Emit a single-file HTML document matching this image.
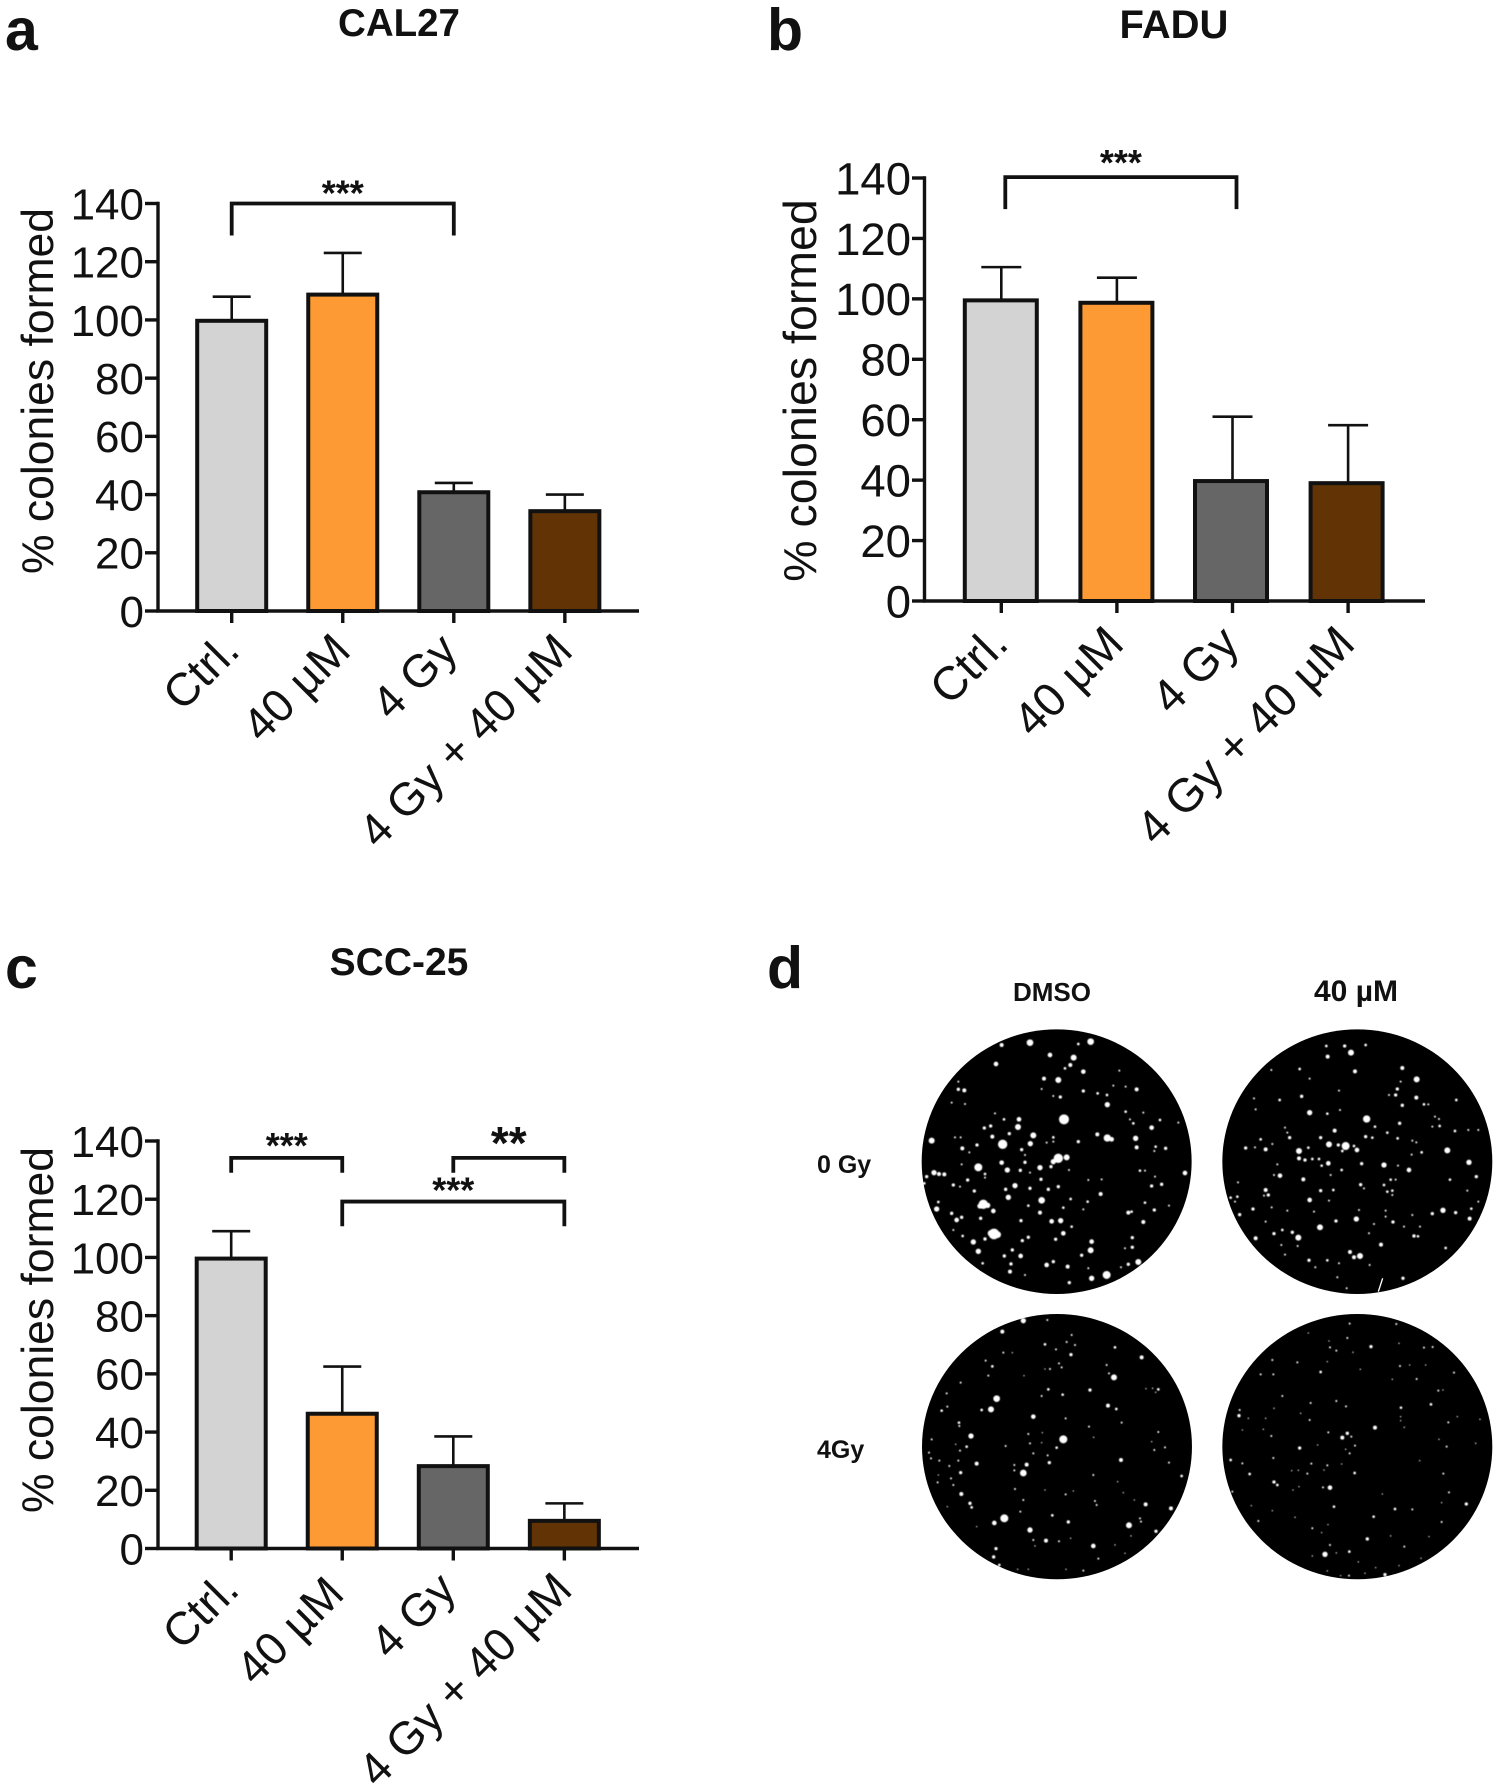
<!DOCTYPE html>
<html lang="en">
<head>
<meta charset="utf-8">
<title>Colony formation assay</title>
<style>
html,body{margin:0;padding:0;background:#fff;}
svg{display:block;}
text{font-family:"Liberation Sans",sans-serif;fill:#111;}
</style>
</head>
<body>
<svg id="figure" xmlns="http://www.w3.org/2000/svg" width="1499" height="1789" viewBox="0 0 1499 1789">
  <defs>
    <filter id="soft" x="-5%" y="-5%" width="110%" height="110%"><feGaussianBlur stdDeviation="1.6"/></filter>
  </defs>
  <rect width="1499" height="1789" fill="#fff"/>

  <text x="5" y="50" font-size="59" font-weight="700">a</text>
  <text x="767" y="50" font-size="59" font-weight="700">b</text>
  <text x="5" y="988" font-size="59" font-weight="700">c</text>
  <text x="767" y="988" font-size="59" font-weight="700">d</text>

  <text x="399" y="36" font-size="38.5" font-weight="700" text-anchor="middle">CAL27</text>
  <text x="1174" y="38" font-size="40" font-weight="700" text-anchor="middle">FADU</text>
  <text x="399" y="975" font-size="39" font-weight="700" text-anchor="middle">SCC-25</text>

  <text x="1052" y="1001" font-size="26" font-weight="700" text-anchor="middle">DMSO</text>
  <text x="1360" y="1001" font-size="30" font-weight="700" text-anchor="middle" transform="translate(-4 0)">40 µM</text>
  <text x="817" y="1173" font-size="25" font-weight="700">0 Gy</text>
  <text x="817" y="1458" font-size="25" font-weight="700">4Gy</text>

  <g id="charts"></g>
  <g id="wells"></g>
</svg>

<script>
const categories = ['Ctrl.', '40 µM', '4 Gy', '4 Gy + 40 µM'];
const tickValues = [0, 20, 40, 60, 80, 100, 120, 140];
const barColors = ['#d3d3d3', '#fe9a33', '#666666', '#623405'];

const cal27Means = [99.7, 108.7, 40.8, 34.3];
const cal27Upper = [108, 123, 44, 40];
const faduMeans = [99.5, 98.7, 39.7, 39];
const faduUpper = [110.5, 107, 61, 58.2];
const scc25Means = [99.6, 46.3, 28.3, 9.5];
const scc25Upper = [109, 62.5, 38.5, 15.5];

/* from-category, to-category, bracket value, leg-end value, stars */
const cal27Brackets = [[0, 2, 140, 129, '***']];
const faduBrackets = [[0, 2, 140.3, 129.7, '***']];
const scc25Brackets = [[0, 1, 134.2, 129.1, '***'], [2, 3, 134.2, 129.1, '**'], [1, 3, 119.2, 110.7, '***']];

const wellA = "345,68,10;527,65,10;260,75,6;405,105,7;490,72,4;476,113,9;466,135,6;450,145,4;505,155,7;243,132,7;430,180,9;387,176,6;130,208,5;148,211,6;130,185,3;505,213,5;548,220,4;576,225,4;577,254,8;436,231,5;415,228,3;380,207,3;665,208,6;632,200,3;595,197,3;613,152,3;110,248,3;150,252,3;240,280,3;267,298,4;312,298,7;309,321,9;227,318,5;208,324,5;283,341,5;232,350,6;355,346,9;346,371,8;50,362,9;120,352,3;137,352,3;142,385,6;186,375,5;263,373,14;163,397,3;320,389,5;330,405,3;415,352,4;395,368,3;415,365,3;490,365,5;547,343,6;577,354,11;590,358,7;632,275,4;655,310,4;710,323,7;735,300,4;662,355,8;665,382,6;722,380,4;752,385,5;718,393,3;790,308,3;685,278,3;645,298,3;447,298,15;430,415,14;455,412,9;415,425,8;408,440,5;375,443,8;190,442,12;260,428,7;277,450,8;330,427,5;140,433,3;316,451,5;345,458,3;462,450,3;810,459,7;675,452,4;690,452,3;57,458,8;72,462,6;88,463,6;35,470,5;28,490,4;158,480,5;210,462,4;210,473,3;378,478,5;520,480,3;560,478,3;115,495,5;135,500,3;178,513,5;300,497,8;272,508,5;345,505,5;400,508,5;430,500,5;740,493,5;710,498,5;720,470,3;557,522,6;280,532,8;380,541,10;467,537,4;518,545,4;205,553,14;195,558,8;218,556,8;235,573,7;340,557,4;65,567,8;70,546,4;110,580,5;125,600,7;140,592,5;197,595,5;375,578,6;445,563,4;505,568,3;690,548,4;718,570,5;640,578,6;650,575,4;762,557,3;685,606,6;318,602,5;410,604,7;437,602,8;470,620,4;115,630,3;237,642,16;228,640,10;248,644,10;445,640,7;143,648,4;175,666,8;210,657,5;340,652,5;322,662,5;422,658,5;530,665,7;652,653,5;652,682,5;190,694,8;527,691,9;292,690,5;268,708,5;317,708,7;500,706,5;415,725,5;395,735,7;458,740,6;203,730,4;288,732,5;285,755,6;670,726,9;640,733,5;575,765,12;530,775,8;330,765,3;463,788,5;520,745,3;618,742,3;630,685,3";
const wellB = "377,78,5;322,78,4;396,98,9;326,110,6;440,75,4;408,154,6;550,144,6;242,147,4;157,150,3;272,176,3;593,178,9;545,185,3;535,207,5;530,225,5;510,225,3;248,229,5;105,235,3;182,240,4;360,212,3;592,233,6;550,256,5;615,253,4;628,253,3;712,240,4;272,278,8;325,281,4;363,270,3;110,268,3;443,297,11;542,310,5;468,320,4;648,290,3;660,297,3;662,318,4;640,320,3;708,333,4;748,330,3;778,330,3;198,323,3;205,338,3;212,353,5;347,332,6;440,350,5;460,353,4;505,338,4;536,355,4;305,353,5;125,358,4;80,384,5;108,382,3;140,388,6;160,372,3;330,373,9;358,375,5;380,378,12;405,378,4;414,390,7;370,393,4;268,383,4;240,393,9;240,415,6;258,420,5;280,417,4;300,417,4;580,362,3;592,367,3;685,391,9;608,397,4;578,404,3;750,427,8;428,431,5;495,435,8;537,437,3;570,450,7;328,430,7;308,437,4;175,433,3;165,465,3;183,467,7;335,465,3;368,450,4;772,470,5;253,478,6;693,479,4;515,479,4;530,479,3;425,494,5;495,495,4;57,487,3;140,510,6;148,525,5;135,527,3;305,512,5;343,510,4;505,515,4;520,512,4;520,525,3;745,512,3;435,505,3;272,540,7;330,542,3;55,530,4;35,533,4;48,545,3;102,567,5;62,584,5;158,562,3;205,572,3;285,575,3;420,570,3;500,572,3;672,571,8;640,581,5;710,578,5;757,566,4;778,545,3;752,596,6;580,585,3;412,597,8;351,603,5;500,590,3;522,606,5;303,622,9;140,605,3;220,637,5;238,653,9;190,630,4;165,641,5;110,655,6;465,612,3;585,648,5;597,649,4;603,620,3;450,640,3;555,620,3;486,674,6;680,684,4;187,675,3;236,678,3;393,696,6;405,712,6;423,708,9;198,704,3;270,721,5;325,721,4;289,742,3;360,730,3;452,735,3;355,772,3;552,775,5;383,805,3";
const wellC = "325,32,8;262,65,6;397,30,3;470,75,3;390,103,4;455,96,3;480,105,3;423,118,3;600,112,4;468,134,5;265,128,3;292,128,2;680,142,6;232,169,4;212,152,3;432,160,3;405,177,3;440,172,3;390,177,2;575,165,3;220,197,3;597,202,9;582,190,3;327,197,2;137,218,3;245,266,10;400,238,4;525,240,5;730,238,4;713,235,2;693,236,2;722,247,2;443,254,4;380,258,3;95,250,3;228,298,9;200,300,4;579,287,6;604,297,4;97,290,3;80,302,4;355,320,7;132,338,4;133,348,3;452,325,3;522,350,3;620,338,3;168,378,8;445,388,12;382,368,2;340,372,3;50,388,3;536,382,2;730,366,3;155,410,4;135,422,3;122,403,2;380,398,2;345,400,3;425,413,4;272,408,3;750,412,3;718,420,3;710,395,2;355,430,3;398,436,3;42,428,3;48,445,3;73,452,3;130,452,3;185,461,6;403,458,5;335,464,6;618,450,6;762,458,3;103,468,3;298,465,3;325,489,10;137,488,5;298,481,3;535,495,3;800,498,4;70,495,2;108,505,3;68,517,3;115,525,3;608,515,2;139,552,6;452,553,3;300,537,3;390,540,2;475,543,2;625,548,2;165,580,5;170,592,4;325,570,3;540,573,3;545,585,3;692,583,6;768,595,6;658,570,2;97,590,2;268,625,12;238,639,7;412,616,4;316,605,3;460,636,5;675,625,3;678,635,3;642,646,9;345,660,8;723,664,5;393,692,6;355,690,3;432,694,3;535,708,7;243,716,5;236,741,5;253,765,4;550,746,3;648,678,2;600,705,2;630,730,2;340,778,2;453,778,2;505,782,3;308,778,2;360,708,2;467,685,2;185,650,2";
const wellD = "392,41,3;532,42,3;268,69,2;385,84,3;330,93,2;456,110,5;333,112,3;352,122,3;540,100,2;615,113,3;641,111,3;402,127,2;160,150,3;235,157,3;325,155,2;125,193,3;163,193,3;305,186,4;424,178,2;543,168,3;572,165,2;620,165,2;705,188,3;593,207,3;520,208,2;658,242,3;672,240,2;190,258,3;352,273,3;275,279,3;636,283,4;381,289,3;546,293,4;62,300,3;60,317,5;165,295,2;245,310,2;272,330,3;545,320,2;545,332,2;88,325,2;140,325,2;688,337,3;715,320,2;783,328,2;468,353,6;556,352,2;385,370,5;370,383,6;397,380,3;328,367,3;70,360,2;133,358,2;157,378,3;408,407,3;380,418,2;392,430,3;242,414,5;296,405,2;683,410,3;770,400,2;660,388,2;163,444,3;35,450,4;70,460,3;602,452,2;277,461,3;325,466,3;368,462,2;92,492,4;265,491,3;238,481,2;218,482,2;407,489,4;315,480,2;673,491,3;165,516,5;175,525,4;240,530,2;222,540,2;333,533,7;312,532,3;40,545,3;690,547,3;490,552,2;742,582,5;345,590,4;528,597,4;580,598,3;668,578,2;97,587,2;160,602,2;464,620,4;118,633,3;228,622,2;668,636,3;280,655,3;308,668,2;327,644,2;445,687,5;515,678,2;630,680,2;333,705,3;556,710,3;318,733,8;391,725,4;352,729,2;606,745,2;540,767,2;498,794,5;390,797,3;365,797,2;325,783,2;438,790,2;418,756,2;470,773,2;280,738,2";

const NS = 'http://www.w3.org/2000/svg';
const chartsRoot = document.getElementById('charts');
const wellsRoot = document.getElementById('wells');

function make(parent, tag, attrs, text) {
  const el = document.createElementNS(NS, tag);
  for (const k in attrs) el.setAttribute(k, attrs[k]);
  if (text !== undefined) el.textContent = text;
  parent.appendChild(el);
  return el;
}

function drawChart(cfg) {
  const g = make(chartsRoot, 'g', {});
  
  

  const yScale = v => cfg.y0 + (cfg.y140 - cfg.y0) * v / 140;
  const xScale = i => cfg.x0 + cfg.step * i;
  const ink = '#111';

  cfg.means.forEach((m, i) => {
    const cx = xScale(i);
    const barX = cx + cfg.barNudge[i];
    const cap = make(g, 'path', {
      d: 'M' + cx + ' ' + yScale(m) + 'V' + yScale(cfg.upper[i]) + 'M' + (cx - cfg.capW / 2) + ' ' + yScale(cfg.upper[i]) + 'H' + (cx + cfg.capW / 2),
      stroke: ink, 'stroke-width': 2.6, fill: 'none'
    });
    
    
    const bar = make(g, 'rect', {
      x: barX - cfg.barW / 2, y: yScale(m), width: cfg.barW, height: yScale(0) - yScale(m),
      fill: barColors[i], stroke: ink, 'stroke-width': 4
    });
    
    
    const tick = make(g, 'line', {
      x1: cx, x2: cx, y1: cfg.y0, y2: cfg.y0 + 12, stroke: ink, 'stroke-width': 3.4
    });
    
    
    const lx = cx + cfg.labelDx + cfg.labelShift[i][0];
    const ly = cfg.y0 + cfg.labelDy + cfg.labelShift[i][1];
    const label = make(g, 'text', {
      transform: 'translate(' + lx + ' ' + ly + ') rotate(-45)',
      'text-anchor': 'end', 'font-size': cfg.labelSize
    }, categories[i]);
    
    
  });

  tickValues.forEach(v => {
    const y = yScale(v);
    const t = make(g, 'line', {
      x1: cfg.tickLeft, x2: cfg.axisX, y1: y, y2: y, stroke: ink, 'stroke-width': 3.4
    });
    
    
    const lab = make(g, 'text', {
      x: cfg.tickLeft - 1, y: y + cfg.tickSize * 0.36, 'text-anchor': 'end', 'font-size': cfg.tickSize
    }, String(v));
    
    
  });

  const axes = make(g, 'path', {
    d: 'M' + cfg.axisX + ' ' + (yScale(140) - 1.7) + 'V' + cfg.y0 + 'H' + cfg.axisEnd,
    stroke: ink, 'stroke-width': 3.4, fill: 'none'
  });
  
  

  const title = make(g, 'text', {
    transform: 'translate(' + cfg.titleX + ' ' + cfg.titleY + ') rotate(-90)',
    'text-anchor': 'middle', 'font-size': cfg.titleSize
  }, '% colonies formed');
  
  

  cfg.brackets.forEach((b, k) => {
    const x1 = xScale(b[0]) + cfg.bracketDx;
    const x2 = xScale(b[1]) + cfg.bracketDx;
    const top = yScale(b[2]);
    const leg = yScale(b[3]);
    const br = make(g, 'path', {
      d: 'M' + x1 + ' ' + leg + 'V' + top + 'H' + x2 + 'V' + leg,
      stroke: ink, 'stroke-width': 3.8, fill: 'none'
    });
    
    
    const size = b[4].length === 2 ? 46 : 36;
    const st = make(g, 'text', {
      x: (x1 + x2) / 2, y: top + cfg.starDy[k],
      'text-anchor': 'middle', 'font-size': size, 'font-weight': 700
    }, b[4]);
    
    
  });
}

function drawWell(name, ox, oy, cx, cy, rx, ry, dots, extra) {
  const g = make(wellsRoot, 'g', { transform: 'translate(' + ox + ' ' + oy + ') scale(0.3333)' });
  
  
  const disc = make(g, 'ellipse', { cx: cx, cy: cy, rx: rx, ry: ry, fill: '#000' });
  
  
  let d = '';
  dots.split(';').forEach(s => {
    const p = s.split(',').map(Number);
    const r = p[2];
    d += 'M' + (p[0] - r) + ' ' + p[1] + 'a' + r + ' ' + r + ' 0 1 0 ' + (2 * r) + ' 0a' + r + ' ' + r + ' 0 1 0 ' + (-2 * r) + ' 0';
  });
  const colonies = make(g, 'path', { d: d, fill: '#fff', filter: 'url(#soft)' });
  
  
  if (extra) {
    const scratch = make(g, 'path', { d: extra, stroke: '#fff', 'stroke-width': 4, fill: 'none' });
    
    
  }
}

drawChart({
  name: 'cal27', means: cal27Means, upper: cal27Upper, brackets: cal27Brackets,
  x0: 231.7, step: 111.05, y0: 611, y140: 203.5, axisX: 158, axisEnd: 639, tickLeft: 145,
  barW: 69, capW: 38, labelDx: 10, labelDy: 42, labelSize: 46, tickSize: 44,
  barNudge: [0, 0, 0, 0], labelShift: [[0, 0], [0, 0], [-4, 0], [0, 0]],
  bracketDx: 0, starDy: [2],
  titleX: 53, titleY: 391, titleSize: 44.5
});
drawChart({
  name: 'fadu', means: faduMeans, upper: faduUpper, brackets: faduBrackets,
  x0: 1001.3, step: 115.6, y0: 601, y140: 178, axisX: 924.5, axisEnd: 1425, tickLeft: 912,
  barW: 72, capW: 40, labelDx: 9, labelDy: 45, labelSize: 47, tickSize: 45.5,
  barNudge: [-0.5, -0.5, -1.5, -1.5], labelShift: [[0, 0], [0, 0], [0, 0], [0, 0]],
  bracketDx: 4, starDy: [-2],
  titleX: 816, titleY: 390.5, titleSize: 46.5
});
drawChart({
  name: 'scc25', means: scc25Means, upper: scc25Upper, brackets: scc25Brackets,
  x0: 231.2, step: 111.05, y0: 1548.5, y140: 1141, axisX: 158, axisEnd: 639, tickLeft: 145,
  barW: 69, capW: 38, labelDx: 10, labelDy: 43.5, labelSize: 46, tickSize: 44,
  barNudge: [0, 0, 0, 0], labelShift: [[0, 0], [-6, 4], [-5, 0], [0, 0]],
  bracketDx: 0, starDy: [0, 1, 1],
  titleX: 53, titleY: 1330, titleSize: 44.5
});

drawWell('dmso-0gy', 915, 1020, 425, 425, 405, 397, wellA);
drawWell('40um-0gy', 1219, 1020, 415, 425, 405, 397, wellB, 'M491 775L478 815');
drawWell('dmso-4gy', 915, 1310, 426, 410, 405, 398, wellC);
drawWell('40um-4gy', 1219, 1310, 415, 410, 405, 398, wellD);
</script>
</body>
</html>
